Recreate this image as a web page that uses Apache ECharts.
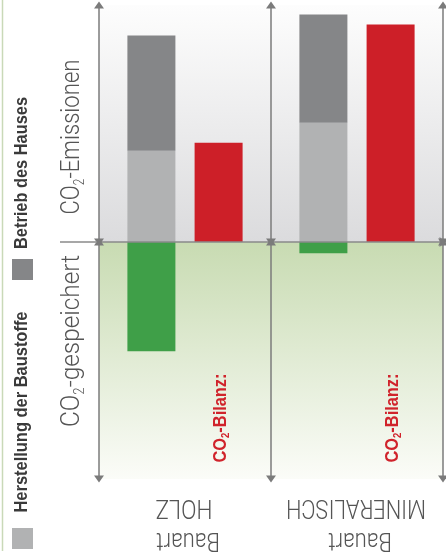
<!DOCTYPE html>
<html>
<head>
<meta charset="utf-8">
<script src="https://cdn.jsdelivr.net/npm/echarts@6/dist/echarts.min.js"></script>
<style>
  html, body { margin: 0; padding: 0; background: #fff; }
  #chart { width: 446px; height: 559px; }
</style>
</head>
<body>
<div id="chart"></div>
<script>
// Werte (relative Einheiten, -100 .. 100)
const categories = ['Bauart HOLZ', 'Bauart MINERALISCH'];
const catLine1 = ['Bauart', 'Bauart'];
const catLine2 = ['HOLZ', 'MINERALISCH'];
const herstellung = [38.5, 50.3];   // Herstellung der Baustoffe
const betrieb = [48.6, 45.7];       // Betrieb des Hauses
const gespeichert = [-46.1, -4.7];  // CO2-gespeichert
const bilanz = [41.9, 91.8];        // CO2-Bilanz
const yMin = -100, yMax = 100;

const COND_BOLD = "'Liberation Sans Narrow', 'Liberation Sans', Arial, sans-serif";
const LIGHT = "Roboto, 'Liberation Sans', sans-serif";

const chart = echarts.init(document.getElementById('chart'));

// helper: horizontal squeeze so a text fits a measured length
const mctx = document.createElement('canvas').getContext('2d');
function squeeze(parts, len) {
  let w = 0;
  parts.forEach(p => { mctx.font = p[1]; w += mctx.measureText(p[0]).width; });
  return len / w;
}

const axisGrey = '#7b7b7b';

const option = {
  animation: false,
  backgroundColor: '#ffffff',
  grid: { left: 99, right: 3, top: 5, bottom: 80 },
  xAxis: [
    {
      type: 'category', data: categories,
      axisLine: { show: false }, axisTick: { show: false },
      axisLabel: { show: false }, splitLine: { show: false }
    },
    { type: 'value', min: 0, max: 2, show: false }
  ],
  yAxis: { type: 'value', min: yMin, max: yMax, show: false },
  series: [
    {
      name: 'Herstellung der Baustoffe', type: 'bar', stack: 'emission',
      data: herstellung, barWidth: 48, barGap: '40%', z: 3,
      itemStyle: { color: '#b1b2b3' }
    },
    {
      name: 'Betrieb des Hauses', type: 'bar', stack: 'emission',
      data: betrieb, z: 3, itemStyle: { color: '#858688' }
    },
    {
      name: 'CO2-gespeichert', type: 'bar', stack: 'emission',
      data: gespeichert, z: 3, itemStyle: { color: '#3f9f48' }
    },
    {
      name: 'CO2-Bilanz', type: 'bar', stack: 'bilanz',
      data: bilanz, barWidth: 48, z: 3, itemStyle: { color: '#cd1f28' }
    },
    {
      type: 'scatter', xAxisIndex: 1, data: [[0, 0]], symbolSize: 0, silent: true, z: 1,
      markArea: {
        silent: true,
        data: [
          [
            { xAxis: 0, yAxis: 0, itemStyle: { color: new echarts.graphic.LinearGradient(0, 0, 0, 1, [
              { offset: 0, color: '#fdfdfd' }, { offset: 1, color: '#dbdbdd' }]) } },
            { xAxis: 2, yAxis: yMax }
          ],
          [
            { xAxis: 0, yAxis: yMin, itemStyle: { color: new echarts.graphic.LinearGradient(0, 0, 0, 1, [
              { offset: 0, color: '#c8dbb2' }, { offset: 1, color: '#fbfcf8' }]) } },
            { xAxis: 2, yAxis: 0 }
          ]
        ]
      },
      markLine: {
        silent: true,
        symbol: ['triangle', 'triangle'],
        symbolSize: [10, 7],
        label: { show: false },
        lineStyle: { color: axisGrey, width: 1.5, type: 'solid' },
        data: [
          { yAxis: 0, symbol: 'none', lineStyle: { color: '#8a8a8a', width: 1.5, type: 'solid' } },
          [{ coord: [0, 0] }, { coord: [0, yMax] }],
          [{ coord: [0, 0] }, { coord: [0, yMin] }],
          [{ coord: [1, 0] }, { coord: [1, yMax] }],
          [{ coord: [1, 0] }, { coord: [1, yMin] }],
          [{ coord: [2, 0] }, { coord: [2, yMax] }],
          [{ coord: [2, 0] }, { coord: [2, yMin] }]
        ]
      }
    }
  ]
};
chart.setOption(option);

// Beschriftungen
const y0 = chart.convertToPixel({ yAxisIndex: 0 }, 0);
const catX = categories.map(c => chart.convertToPixel({ xAxisIndex: 0 }, c));
const redOffset = 33.5;

const g = [];
// linker Rand
g.push({ type: 'line', shape: { x1: 2.5, y1: 0, x2: 2.5, y2: 551 }, style: { stroke: '#c9d9b8', lineWidth: 1.5 } });
// Verlängerung der Nulllinie
g.push({ type: 'line', shape: { x1: 60, y1: y0, x2: 96, y2: y0 }, style: { stroke: '#8a8a8a', lineWidth: 1.5 } });

// Legende
const legFont = 'bold 18px ' + COND_BOLD;
g.push({ type: 'rect', shape: { x: 12, y: 259, width: 21, height: 21 }, style: { fill: '#858688' } });
g.push({ type: 'rect', shape: { x: 12, y: 528, width: 21, height: 21 }, style: { fill: '#b1b2b3' } });
g.push({
  type: 'text', x: 22, y: 173, rotation: Math.PI / 2,
  scaleX: squeeze([['Betrieb des Hauses', legFont]], 152),
  style: { text: 'Betrieb des Hauses', font: legFont, fill: '#3a3a3a', align: 'center', verticalAlign: 'middle' }
});
g.push({
  type: 'text', x: 22, y: 412, rotation: Math.PI / 2,
  scaleX: squeeze([['Herstellung der Baustoffe', legFont]], 201),
  style: { text: 'Herstellung der Baustoffe', font: legFont, fill: '#3a3a3a', align: 'center', verticalAlign: 'middle' }
});

// Achsentitel
const tFont = '300 26px ' + LIGHT;
const sFont = '300 14px ' + LIGHT;
function axisTitle(rest, cy, len) {
  return {
    type: 'text', x: 72, y: cy, rotation: Math.PI / 2,
    scaleX: squeeze([['CO' + rest, tFont], ['2', sFont]], len),
    style: {
      text: 'CO{s|2}' + rest,
      font: tFont, fill: '#555555', align: 'center', verticalAlign: 'middle',
      lineHeight: 30,
      rich: { s: { font: sFont, fill: '#555555', lineHeight: 14, verticalAlign: 'bottom' } }
    }
  };
}
g.push(axisTitle('-Emissionen', 137, 155));
g.push(axisTitle('-gespeichert', 341, 172));

// CO2-Bilanz (über dem Hintergrund)
const bFont = 'bold 19px ' + COND_BOLD;
const bsFont = 'bold 11px ' + COND_BOLD;
catX.forEach(cx => {
  g.push({
    type: 'text', x: cx + redOffset + 2, y: 418, rotation: Math.PI / 2, z: 20,
    scaleX: squeeze([['CO-Bilanz:', bFont], ['2', bsFont]], 89),
    style: {
      text: 'CO{s|2}-Bilanz:', font: bFont, fill: '#d0232b', align: 'center', verticalAlign: 'middle',
      lineHeight: 22,
      rich: { s: { font: bsFont, fill: '#d0232b', lineHeight: 11, verticalAlign: 'bottom' } }
    }
  });
});

// Kategorien (um 180° gedreht)
const cFont = '300 25px ' + LIGHT;
catX.forEach((cx, i) => {
  g.push({
    type: 'text', x: cx - 1, y: 506, rotation: Math.PI,
    scaleX: squeeze([[catLine2[i], cFont]], i === 0 ? 57 : 140),
    style: { text: catLine2[i], font: cFont, fill: '#555555', align: 'center', verticalAlign: 'middle' }
  });
  g.push({
    type: 'text', x: cx + 3, y: 539, rotation: Math.PI,
    scaleX: squeeze([[catLine1[i], cFont]], 64),
    style: { text: catLine1[i], font: cFont, fill: '#555555', align: 'center', verticalAlign: 'middle' }
  });
});

chart.setOption({ graphic: { elements: g } });
</script>
</body>
</html>
